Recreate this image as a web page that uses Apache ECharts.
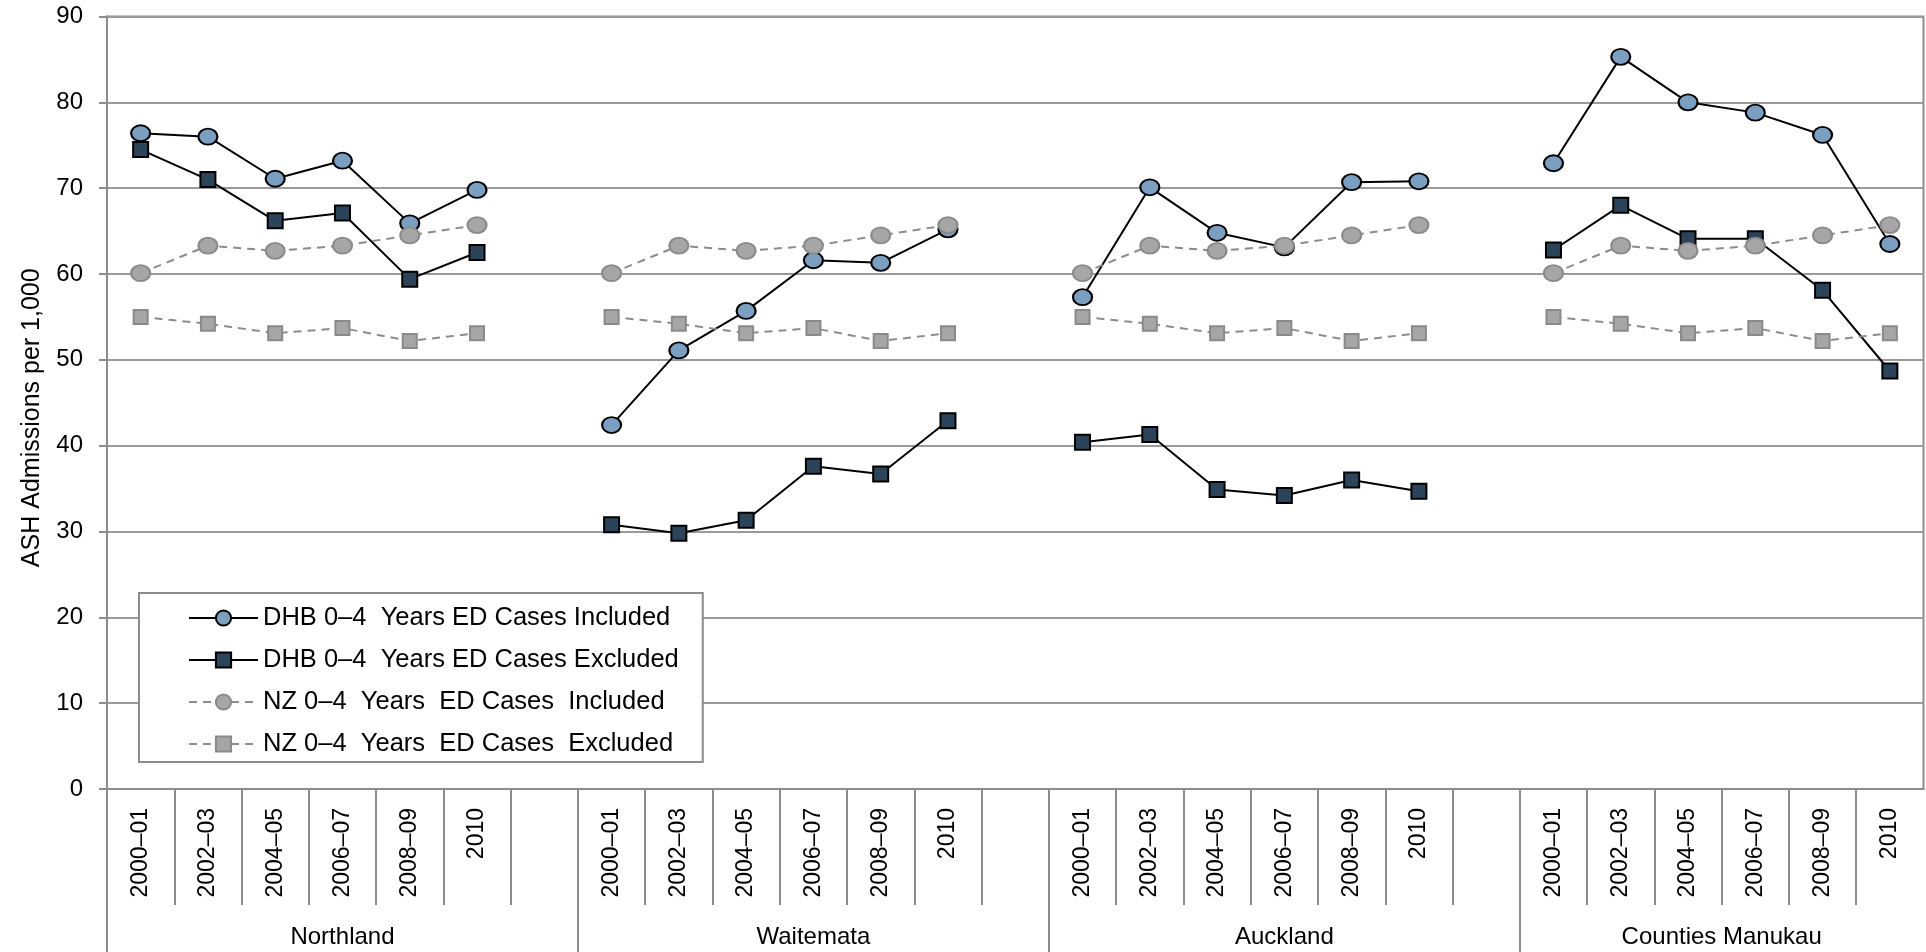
<!DOCTYPE html>
<html>
<head>
<meta charset="utf-8">
<script src="https://cdn.jsdelivr.net/npm/echarts@6/dist/echarts.min.js"></script>
<style>
  html, body { margin: 0; padding: 0; background: #fff; }
  #chart { width: 1926px; height: 952px; }
</style>
</head>
<body>
<div id="chart"></div>
<script>
// Periods shown for every DHB
const years = ['2000–01', '2002–03', '2004–05', '2006–07', '2008–09', '2010'];
const dhbNames = ['Northland', 'Waitemata', 'Auckland', 'Counties Manukau'];

// ASH admissions per 1,000, one row per DHB (same order as dhbNames)
const dhbIncluded = [
  [76.4, 76.0, 71.1, 73.2, 65.9, 69.8],
  [42.4, 51.1, 55.7, 61.6, 61.3, 65.2],
  [57.3, 70.1, 64.8, 63.1, 70.7, 70.8],
  [72.9, 85.3, 80.0, 78.8, 76.2, 63.5]
];
const dhbExcluded = [
  [74.5, 71.0, 66.2, 67.1, 59.4, 62.5],
  [30.8, 29.8, 31.3, 37.6, 36.7, 42.9],
  [40.4, 41.3, 34.9, 34.2, 36.0, 34.7],
  [62.8, 68.0, 64.1, 64.1, 58.1, 48.7]
];
// National reference, repeated beside each DHB
const nzIncluded = [60.1, 63.3, 62.7, 63.3, 64.5, 65.7];
const nzExcluded = [55.0, 54.2, 53.1, 53.7, 52.2, 53.1];

const seriesNames = [
  'DHB 0–4  Years ED Cases Included',
  'DHB 0–4  Years ED Cases Excluded',
  'NZ 0–4  Years  ED Cases  Included',
  'NZ 0–4  Years  ED Cases  Excluded'
];
const yMin = 0, yMax = 90, yStep = 10;

// Category slots: each DHB's periods, then one empty spacer (none after the last DHB)
const categories = [];
const groupStart = [];
const groupSpan = [];
dhbNames.forEach((name, g) => {
  groupStart.push(categories.length);
  years.forEach(y => categories.push(y));
  const last = g === dhbNames.length - 1;
  if (!last) categories.push('');
  groupSpan.push(years.length + (last ? 0 : 1));
});
const nSlots = categories.length;

// Lay values out along the slots, leaving a gap at each spacer
function spread(rowFor) {
  const out = [];
  dhbNames.forEach((name, g) => {
    out.push(...rowFor(g));
    if (g < dhbNames.length - 1) out.push(null);
  });
  return out;
}

const W = 1926;
const gridLeft = 107, gridRight = 2.5, gridTop = 16.5, gridBottom = 163;
const band = (W - gridLeft - gridRight) / nSlots;
const axisGray = '#8c8c8c';
const gridGray = '#9a9a9a';
const font = '"Liberation Sans", Arial, sans-serif';

// Helper axes for the separators below the plot. They run right-to-left, so the
// closing tick ECharts always adds lands on the left edge, where the axis line is.
const tickSlots = new Array(nSlots).fill('');
const groupLabelsLtr = new Array(nSlots).fill('');
dhbNames.forEach((name, g) => {
  const span = groupSpan[g];
  const idx = groupStart[g] + Math.floor((span - 1) / 2);
  groupLabelsLtr[idx] = span % 2 === 1
    ? name
    : { value: name, textStyle: { padding: [0, 0, 0, band] } };
});
const groupLabels = groupLabelsLtr.slice().reverse();
const groupTickIdx = groupStart.filter(s => s > 0).map(s => nSlots - s);

const chart = echarts.init(document.getElementById('chart'), null, { renderer: 'canvas' });

const lineBase = {
  type: 'line',
  xAxisIndex: 0,
  yAxisIndex: 0,
  connectNulls: false,
  showAllSymbol: true,
  emphasis: { disabled: true }
};

chart.setOption({
  animation: false,
  backgroundColor: '#fff',
  textStyle: { fontFamily: font },
  grid: {
    left: gridLeft, right: gridRight, top: gridTop, bottom: gridBottom,
    show: true, borderColor: axisGray, borderWidth: 2
  },
  xAxis: [
    {
      type: 'category', data: categories, boundaryGap: true, position: 'bottom',
      axisLine: { lineStyle: { color: axisGray, width: 2 } },
      axisTick: { show: false },
      axisLabel: { interval: 0, rotate: 90, margin: 19, fontSize: 23, color: '#000', fontFamily: font },
      splitLine: { show: false }
    },
    {
      type: 'category', data: tickSlots, boundaryGap: true, position: 'bottom', inverse: true,
      axisLine: { show: false },
      axisLabel: { show: false },
      axisTick: { show: true, length: 116, interval: i => i > 0,
                  lineStyle: { color: axisGray, width: 2 } },
      splitLine: { show: false }
    },
    {
      type: 'category', data: groupLabels, boundaryGap: true, position: 'bottom', inverse: true,
      axisLine: { show: false },
      axisTick: { show: true, length: 163, interval: i => groupTickIdx.includes(i),
                  lineStyle: { color: axisGray, width: 2 } },
      axisLabel: { interval: 0, margin: 136, fontSize: 24, color: '#000', fontFamily: font },
      splitLine: { show: false }
    }
  ],
  yAxis: {
    type: 'value', min: yMin, max: yMax, interval: yStep,
    name: 'ASH Admissions per 1,000', nameLocation: 'middle', nameGap: 62,
    nameTextStyle: { fontSize: 25, color: '#000', fontFamily: font, padding: [0, 30, 0, 0] },
    axisLine: { show: true, lineStyle: { color: axisGray, width: 2 } },
    axisTick: { show: true, length: 8, lineStyle: { color: axisGray, width: 2 } },
    axisLabel: { margin: 24, fontSize: 24, color: '#000', fontFamily: font },
    splitLine: { show: true, lineStyle: { color: gridGray, width: 2 } }
  },
  legend: {
    orient: 'vertical', left: 139, top: 593,
    padding: [11, 24, 4, 49],
    itemWidth: 69, itemHeight: 19, itemGap: 14,
    borderColor: axisGray, borderWidth: 2, backgroundColor: '#fff',
    textStyle: { fontSize: 25.5, lineHeight: 28, color: '#000', fontFamily: font },
    data: seriesNames
  },
  series: [
    Object.assign({}, lineBase, {
      name: seriesNames[0],
      data: spread(g => dhbIncluded[g]),
      symbol: 'circle', symbolSize: [19, 16],
      lineStyle: { color: '#000', width: 2 },
      itemStyle: { color: '#7b9fc1', borderColor: '#000', borderWidth: 2 }
    }),
    Object.assign({}, lineBase, {
      name: seriesNames[1],
      data: spread(g => dhbExcluded[g]),
      symbol: 'rect', symbolSize: 15,
      lineStyle: { color: '#000', width: 2 },
      itemStyle: { color: '#2c4459', borderColor: '#000', borderWidth: 2 }
    }),
    Object.assign({}, lineBase, {
      name: seriesNames[2],
      data: spread(() => nzIncluded),
      symbol: 'circle', symbolSize: [19, 16],
      lineStyle: { color: axisGray, width: 2, type: [8, 6] },
      itemStyle: { color: '#a6a6a6', borderColor: '#8a8a8a', borderWidth: 2 }
    }),
    Object.assign({}, lineBase, {
      name: seriesNames[3],
      data: spread(() => nzExcluded),
      symbol: 'rect', symbolSize: 14,
      lineStyle: { color: axisGray, width: 2, type: [8, 6] },
      itemStyle: { color: '#a6a6a6', borderColor: '#8a8a8a', borderWidth: 2 }
    })
  ]
});
</script>
</body>
</html>
